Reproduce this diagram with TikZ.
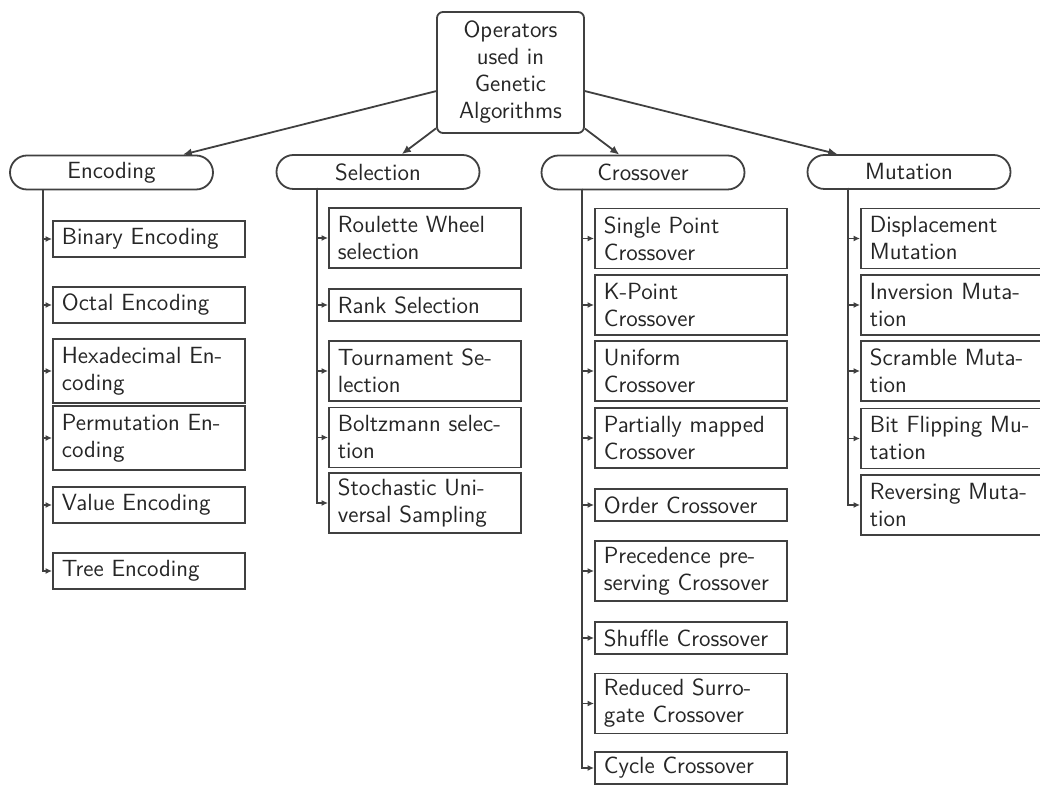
\documentclass[tikz,border=0pt]{standalone}
\usetikzlibrary{arrows.meta}
\definecolor{ln}{gray}{0.25}
\definecolor{tx}{gray}{0.15}
\begin{document}
\begin{tikzpicture}[x=0.5pt,y=-0.5pt,
  every node/.style={font=\sffamily\fontsize{11.7}{13.5}\selectfont, text=tx},
  rootbox/.style={draw=ln, line width=0.9pt, rounded corners=3pt, align=center, minimum width=73.5pt, minimum height=60.5pt, inner sep=0pt},
  lvl/.style={draw=ln, line width=0.9pt, rounded corners=8.5pt, minimum width=101.5pt, minimum height=17pt, inner sep=0pt},
  leaf/.style={draw=ln, line width=0.9pt, anchor=west, text width=87pt, inner xsep=4.5pt, inner ysep=0pt, align=left, minimum height=16pt},
  leafe/.style={leaf, minimum height=18pt},
  leaftwo/.style={leaf, minimum height=30pt},
  leaftwoe/.style={leaf, minimum height=32pt},
  arr/.style={draw=ln, line width=0.9pt, -{Latex[length=4.5pt,width=4pt]}},
  sarr/.style={draw=ln, line width=0.9pt, -{Latex[length=3.2pt,width=3pt]}}]
\clip (0,0) rectangle (1040,785);
\fill[white] (0,0) rectangle (1040,785);

\node[rootbox] (root) at (510.5,72.5) {Operators\\used in\\Genetic\\Algorithms};

\node[lvl] (enc) at (111.5,172.5) {Encoding};
\node[lvl] (sel) at (378,172) {Selection};
\node[lvl] (cro) at (643,172.5) {Crossover};
\node[lvl] (mut) at (909,172) {Mutation};

\draw[arr] (root) -- (enc);
\draw[arr] (root) -- (sel);
\draw[arr] (root) -- (cro);
\draw[arr] (root) -- (mut);

% Encoding
\coordinate (ce) at (43,190);
\node[leafe] (e1) at (52,239) {Binary Encoding};
\node[leafe] (e2) at (52,305) {Octal Encoding};
\node[leaftwoe] (e3) at (52,371) {Hexadecimal En-\\coding};
\node[leaftwoe] (e4) at (52,438) {Permutation En-\\coding};
\node[leafe] (e5) at (52,505) {Value Encoding};
\node[leafe] (e6) at (52,571) {Tree Encoding};
\foreach \i in {1,...,6} \draw[sarr] (ce) |- (e\i.west);

% Selection
\coordinate (cs) at (317,188);
\node[leaftwo] (s1) at (328,238) {Roulette Wheel\\selection};
\node[leaf] (s2) at (328,305) {Rank Selection};
\node[leaftwo] (s3) at (328,371) {Tournament Se-\\lection};
\node[leaftwo] (s4) at (328,437.5) {Boltzmann selec-\\tion};
\node[leaftwo] (s5) at (328,503) {Stochastic Uni-\\versal Sampling};
\foreach \i in {1,...,5} \draw[sarr] (cs) |- (s\i.west);

% Crossover
\coordinate (cc) at (582,189);
\node[leaftwo] (c1) at (594,238.5) {Single Point\\Crossover};
\node[leaftwo] (c2) at (594,305) {K-Point\\Crossover};
\node[leaftwo] (c3) at (594,371) {Uniform\\Crossover};
\node[leaftwo] (c4) at (594,438) {Partially mapped\\Crossover};
\node[leaf] (c5) at (594,505) {Order Crossover};
\node[leaftwo] (c6) at (594,571) {Precedence pre-\\serving Crossover};
\node[leaf] (c7) at (594,638) {Shuffle Crossover};
\node[leaftwo] (c8) at (594,703.5) {Reduced Surro-\\gate Crossover};
\node[leaf] (c9) at (594,768) {Cycle Crossover};
\foreach \i in {1,...,9} \draw[sarr] (cc) |- (c\i.west);

% Mutation
\coordinate (cm) at (848,188);
\node[leaftwo] (m1) at (860,238.5) {Displacement\\Mutation};
\node[leaftwo] (m2) at (860,305) {Inversion Muta-\\tion};
\node[leaftwo] (m3) at (860,371) {Scramble Muta-\\tion};
\node[leaftwo] (m4) at (860,438.5) {Bit Flipping Mu-\\tation};
\node[leaftwo] (m5) at (860,505) {Reversing Muta-\\tion};
\foreach \i in {1,...,5} \draw[sarr] (cm) |- (m\i.west);
\end{tikzpicture}
\end{document}
